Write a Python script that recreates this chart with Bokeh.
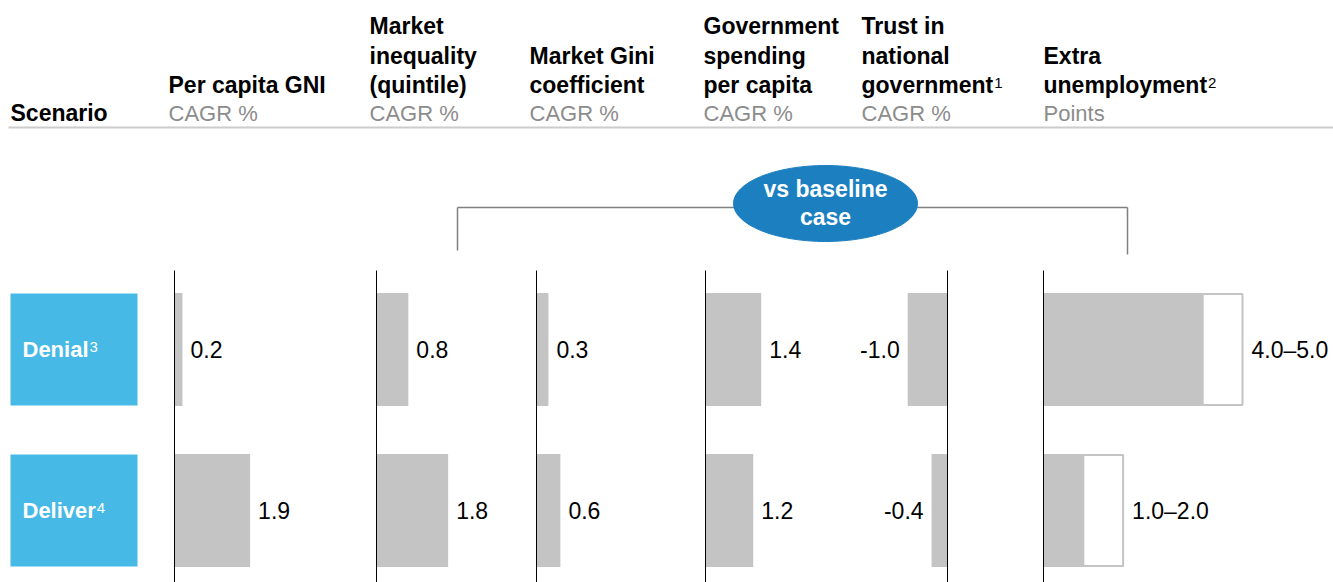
from bokeh.plotting import figure
from bokeh.models import Range1d
from bokeh.core.properties import value
from bokeh.embed import file_html
from bokeh.resources import INLINE

# ---------------- data ----------------
scenarios = ["Denial", "Deliver"]
scenario_notes = ["3", "4"]
per_capita_gni = [0.2, 1.9]
market_inequality = [0.8, 1.8]
market_gini = [0.3, 0.6]
gov_spending = [1.4, 1.2]
trust_gov = [-1.0, -0.4]
extra_unemp_low = [4.0, 1.0]
extra_unemp_high = [5.0, 2.0]

header_titles = [
    ["Per capita GNI"],
    ["Market", "inequality", "(quintile)"],
    ["Market Gini", "coefficient"],
    ["Government", "spending", "per capita"],
    ["Trust in", "national", "government"],
    ["Extra", "unemployment"],
]
header_notes = ["", "", "", "", "1", "2"]
header_units = ["CAGR %", "CAGR %", "CAGR %", "CAGR %", "CAGR %", "Points"]
scenario_header = "Scenario"
bracket_label = ["vs baseline", "case"]

# ---------------- layout / style ----------------
W, H = 1333, 582
FONT = value("Liberation Sans")
BLACK = "#000000"
GREY_TXT = "#8c8c8c"
BAR = "#c4c4c4"
BOX = "#47b9e6"
OVAL = "#1b7fc0"
BRACKET = "#808080"

HEADER_X = [168, 369, 529, 703, 861, 1043]
ZERO_X = [174, 376, 536, 705, 947, 1043]
PX_PER_UNIT = 39.8
ROW_Y = [349, 510]
BAR_H = 113
LINE_Y = [25.5, 55, 84, 112.5]
ZERO_TOP, ZERO_BOT = 270, 590

BOLD_W = {"g": 611, "o": 611, "v": 556, "e": 556, "r": 389, "n": 611, "m": 889,
          "t": 333, "u": 611, "p": 611, "l": 278, "y": 556, "D": 722, "i": 278,
          "a": 556, "E": 667, "x": 556}


def bold_width(s, size):
    return sum(BOLD_W.get(c, 556) for c in s) * size / 1000.0


p = figure(width=W, height=H, x_range=Range1d(0, W), y_range=Range1d(H, 0),
           output_backend="svg", toolbar_location=None, min_border=0,
           x_axis_location=None, y_axis_location=None, outline_line_color=None)
p.grid.visible = False
p.background_fill_color = "white"

# ---------- header ----------
p.text(x=[10], y=[LINE_Y[3]], text=[scenario_header], text_font=FONT,
       text_font_size="23px", text_font_style="bold", text_color=BLACK,
       text_baseline="middle")
for hx, lines, note, unit in zip(HEADER_X, header_titles, header_notes, header_units):
    start = 3 - len(lines)
    ys = LINE_Y[start:3]
    p.text(x=[hx] * len(lines), y=ys, text=lines, text_font=FONT,
           text_font_size="23px", text_font_style="bold", text_color=BLACK,
           text_baseline="middle")
    if note:
        p.text(x=[hx + bold_width(lines[-1], 23) + 1], y=[ys[-1] - 2], text=[note],
               text_font=FONT, text_font_size="15px", text_color=BLACK,
               text_baseline="middle")
    p.text(x=[hx], y=[LINE_Y[3]], text=[unit], text_font=FONT,
           text_font_size="22px", text_color=GREY_TXT, text_baseline="middle")

p.segment(x0=[8], x1=[W], y0=[127], y1=[127], line_color="#cccccc", line_width=2)

# ---------- bracket + oval ----------
p.segment(x0=[457, 457, 1127], x1=[1127, 457, 1127], y0=[207, 207, 207],
          y1=[207, 250, 254], line_color=BRACKET, line_width=1.5)
p.ellipse(x=[825], y=[203], width=184, height=76, fill_color=OVAL, line_color=OVAL)
p.text(x=[825, 825], y=[188, 216], text=bracket_label, text_font=FONT,
       text_font_size="23px", text_font_style="bold", text_color="white",
       text_align="center", text_baseline="middle")

# ---------- scenario boxes ----------
for y, name, note in zip(ROW_Y, scenarios, scenario_notes):
    p.quad(left=[10], right=[137], top=[y - 56], bottom=[y + 56], fill_color=BOX,
           line_color=None)
    p.text(x=[22], y=[y], text=[name], text_font=FONT, text_font_size="22px",
           text_font_style="bold", text_color="white", text_baseline="middle")
    p.text(x=[22 + bold_width(name, 22) + 1], y=[y - 3], text=[note], text_font=FONT,
           text_font_size="15px", text_color="white", text_baseline="middle")

# ---------- bar columns ----------
series = [per_capita_gni, market_inequality, market_gini, gov_spending, trust_gov]
for i, z in enumerate(ZERO_X):
    p.extra_x_ranges[f"c{i}"] = Range1d(-z / PX_PER_UNIT, (W - z) / PX_PER_UNIT)

for i, vals in enumerate(series):
    rn = f"c{i}"
    p.hbar(y=ROW_Y, left=[0] * len(vals), right=vals, height=BAR_H, fill_color=BAR,
           line_color=None, x_range_name=rn)
    for v, y in zip(vals, ROW_Y):
        p.text(x=[v], y=[y], text=[f"{v:.1f}"], x_range_name=rn, text_font=FONT,
               text_font_size="23px", text_color=BLACK, text_baseline="middle",
               text_align="left" if v >= 0 else "right",
               x_offset=8 if v >= 0 else -8)

# extra unemployment: range bars
rn = "c5"
p.hbar(y=ROW_Y, left=extra_unemp_low, right=extra_unemp_high, height=BAR_H - 2,
       fill_color="white", line_color=BAR, line_width=2, x_range_name=rn)
p.hbar(y=ROW_Y, left=[0, 0], right=extra_unemp_low, height=BAR_H, fill_color=BAR,
       line_color=None, x_range_name=rn)
for lo, hi, y in zip(extra_unemp_low, extra_unemp_high, ROW_Y):
    p.text(x=[hi], y=[y], text=[f"{lo:.1f}\u2013{hi:.1f}"], x_range_name=rn,
           text_font=FONT, text_font_size="23px", text_color=BLACK,
           text_baseline="middle", text_align="left", x_offset=9)

# zero lines
for i in range(6):
    p.segment(x0=[0], x1=[0], y0=[ZERO_TOP], y1=[ZERO_BOT], line_color=BLACK,
              line_width=1, x_range_name=f"c{i}")

open("out.html", "w").write(file_html(p, INLINE))
